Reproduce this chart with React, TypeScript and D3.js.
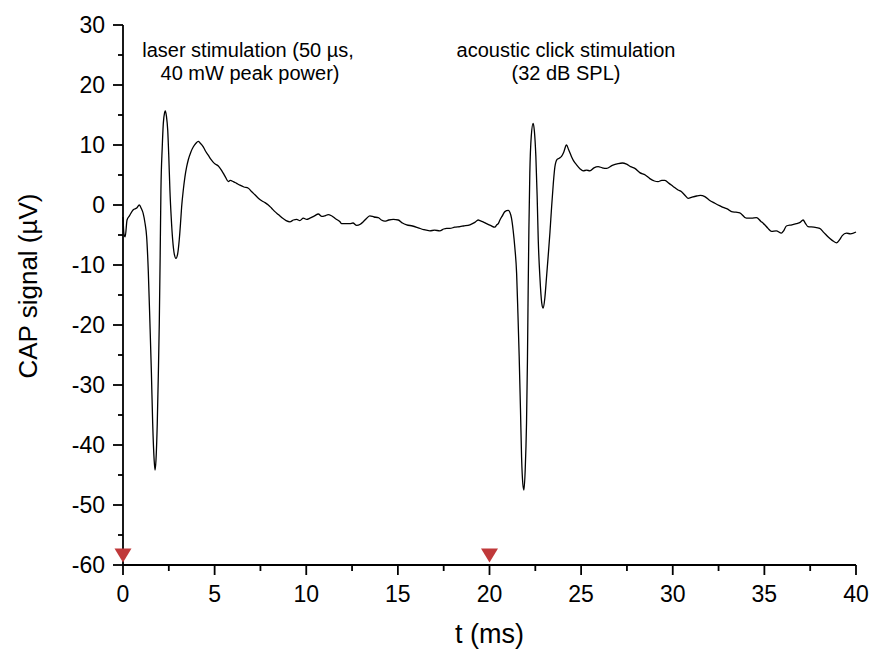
import React from "react";
import * as d3 from "d3";

const timeMs = [
  0.0, 0.05, 0.12, 0.22, 0.35, 0.56, 0.75, 0.89, 1.0, 1.1, 1.2, 1.29, 1.38, 1.47, 1.55, 1.62, 1.7, 1.75, 1.8, 1.87,
  1.93, 1.98, 2.03, 2.07, 2.14, 2.2, 2.27, 2.31, 2.37, 2.44, 2.5, 2.56, 2.63, 2.71, 2.8, 2.89, 2.98, 3.07, 3.14, 3.2,
  3.29, 3.38, 3.47, 3.56, 3.7, 3.84, 3.98, 4.11, 4.22, 4.38, 4.5, 4.65, 4.8, 4.93, 5.05, 5.2, 5.35, 5.47, 5.6, 5.75,
  5.85, 6.02, 6.2, 6.38, 6.6, 6.84, 7.0, 7.2, 7.4, 7.57, 7.75, 7.93, 8.1, 8.29, 8.48, 8.66, 8.9, 9.11, 9.3, 9.48,
  9.65, 9.84, 10.02, 10.2, 10.45, 10.66, 10.85, 11.02, 11.2, 11.38, 11.6, 11.84, 11.93, 12.2, 12.38, 12.55, 12.75, 12.95, 13.11, 13.3,
  13.47, 13.7, 13.93, 14.1, 14.29, 14.5, 14.75, 15.02, 15.25, 15.48, 15.8, 16.11, 16.4, 16.75, 17.0, 17.29, 17.5, 17.66, 17.84, 18.1,
  18.39, 18.57, 18.93, 19.2, 19.38, 19.48, 19.65, 19.84, 20.05, 20.29, 20.4, 20.48, 20.57, 20.7, 20.84, 21.02, 21.11, 21.2, 21.29, 21.38,
  21.48, 21.55, 21.62, 21.69, 21.75, 21.82, 21.88, 21.95, 22.02, 22.07, 22.11, 22.15, 22.2, 22.28, 22.38, 22.45, 22.53, 22.6, 22.66, 22.75,
  22.85, 22.93, 23.02, 23.1, 23.2, 23.3, 23.39, 23.48, 23.57, 23.69, 23.8, 23.93, 24.05, 24.2, 24.32, 24.47, 24.6, 24.75, 24.95, 25.11,
  25.3, 25.48, 25.7, 25.93, 26.15, 26.39, 26.7, 27.02, 27.25, 27.48, 27.7, 27.93, 28.2, 28.5, 28.75, 29.0, 29.2, 29.4, 29.57, 29.8,
  30.02, 30.29, 30.48, 30.7, 30.84, 31.05, 31.3, 31.5, 31.75, 32.0, 32.3, 32.55, 32.75, 33.0, 33.21, 33.45, 33.66, 34.02, 34.3, 34.57,
  34.8, 35.02, 35.2, 35.39, 35.65, 35.93, 36.05, 36.2, 36.5, 36.75, 36.95, 37.11, 37.25, 37.38, 37.7, 38.02, 38.25, 38.47, 38.7, 38.93,
  39.1, 39.25, 39.48, 39.7, 40.0,
];

const capUv = [
  -2.0, -4.8, -5.3, -2.5, -1.8, -0.8, -0.5, 0.0, -0.6, -1.4, -3.0, -5.3, -11, -19.7, -28, -36.4, -42.5, -44.2, -42.5, -36.4,
  -28, -19.7, -8, 2.5, 9.5, 13.6, 15.4, 15.7, 14.8, 12.5, 8, 2.5, -2, -5.8, -8.2, -8.9, -8.2, -5.8, -3, -0.3,
  2.5, 4.7, 6.3, 7.5, 8.8, 9.7, 10.3, 10.6, 10.3, 9.7, 9.0, 8.3, 7.6, 7.1, 6.8, 6.5, 5.9, 5.3, 4.6, 3.9,
  4.1, 3.9, 3.6, 3.3, 3.0, 2.8, 2.3, 1.7, 1.1, 0.7, 0.4, 0.0, -0.5, -1.1, -1.6, -2.1, -2.6, -2.8, -2.5, -2.4,
  -2.6, -2.2, -2.4, -2.2, -1.8, -1.5, -1.9, -1.8, -1.6, -1.8, -2.3, -2.8, -3.1, -3.1, -3.1, -3.0, -3.4, -3.2, -2.8, -2.2,
  -1.8, -2.0, -2.1, -2.5, -2.7, -2.5, -2.4, -2.5, -3.0, -3.3, -3.5, -3.8, -4.1, -4.3, -4.2, -4.3, -4.0, -3.9, -3.9, -3.7,
  -3.6, -3.5, -3.3, -2.9, -2.5, -2.6, -2.8, -3.1, -3.4, -3.7, -3.3, -3.1, -2.5, -1.8, -1.1, -0.9, -1.2, -2.2, -4.2, -7,
  -11.4, -18, -25.3, -34, -42, -46.5, -47.5, -44, -36.4, -26, -14.2, -4, 5.3, 11.5, 13.6, 12.3, 8.1, 1.5, -5.8, -12,
  -16.3, -17.2, -15.5, -12.5, -8.6, -4.5, -0.3, 3.5, 6.4, 7.6, 7.8, 8.1, 8.8, 10.0, 9.2, 8.1, 7.3, 6.7, 6.0, 5.7,
  5.8, 5.7, 6.2, 6.4, 6.2, 6.1, 6.6, 6.9, 7.0, 6.8, 6.4, 6.1, 5.4, 5.0, 4.4, 4.0, 3.9, 4.1, 4.1, 3.6,
  3.1, 2.5, 2.2, 1.5, 1.1, 1.3, 1.5, 1.6, 1.4, 0.8, 0.3, -0.1, -0.4, -0.7, -1.1, -1.2, -1.3, -2.2, -2.2, -2.1,
  -2.7, -3.3, -3.9, -4.4, -4.3, -4.7, -4.3, -3.5, -3.3, -3.1, -2.9, -2.5, -3.1, -3.6, -3.7, -3.9, -4.6, -5.3, -5.9, -6.3,
  -5.8, -5.1, -4.7, -4.8, -4.5,
];

const xMajorTicks = [0, 5, 10, 15, 20, 25, 30, 35, 40];
const xMinorTicks = [2.5, 7.5, 12.5, 17.5, 22.5, 27.5, 32.5, 37.5];
const yMajorTicks = [-60, -50, -40, -30, -20, -10, 0, 10, 20, 30];
const yMinorTicks = [-55, -45, -35, -25, -15, -5, 5, 15, 25];
const stimulusTimes = [0, 20];

const annotationLaser = ["laser stimulation (50 µs,", "40 mW peak power)"];
const annotationAcoustic = ["acoustic click stimulation", "(32 dB SPL)"];
const xTitle = "t (ms)";
const yTitle = "CAP signal (µV)";

export default function App() {
  const W = 872;
  const H = 650;
  const x = d3.scaleLinear().domain([0, 40]).range([123, 856]);
  const y = d3.scaleLinear().domain([-60, 30]).range([565, 25]);
  const font = "'Liberation Sans', Arial, sans-serif";

  const pts: [number, number][] = timeMs.map((t, i) => [t, capUv[i]]);
  const line = d3
    .line<[number, number]>()
    .x((d) => x(d[0]))
    .y((d) => y(d[1]))
    .curve(d3.curveMonotoneX);

  const x0 = x(0);
  const yBase = y(-60);
  const axisW = 1.8;

  return (
    <svg
      width={W}
      height={H}
      style={{ position: "absolute", left: 0, top: 0, background: "#fff" }}
      fontFamily={font}
    >
      <rect x={0} y={0} width={W} height={H} fill="#fff" />
      <path d={line(pts) || ""} fill="none" stroke="#000" strokeWidth={1.3} strokeLinejoin="round" />

      <line x1={x0} x2={x0} y1={y(30)} y2={yBase} stroke="#000" strokeWidth={axisW} />
      {yMajorTicks.map((v) => (
        <g key={"ym" + v}>
          <line x1={x0 - 10} x2={x0} y1={y(v)} y2={y(v)} stroke="#000" strokeWidth={axisW} />
          <text x={x0 - 18} y={y(v)} dy="0.36em" textAnchor="end" fontSize={23}>
            {v}
          </text>
        </g>
      ))}
      {yMinorTicks.map((v) => (
        <line key={"yn" + v} x1={x0 - 5} x2={x0} y1={y(v)} y2={y(v)} stroke="#000" strokeWidth={axisW} />
      ))}

      <line x1={x0} x2={x(40)} y1={yBase} y2={yBase} stroke="#000" strokeWidth={axisW} />
      {xMajorTicks.map((v) => (
        <g key={"xm" + v}>
          <line x1={x(v)} x2={x(v)} y1={yBase} y2={yBase + 10} stroke="#000" strokeWidth={axisW} />
          <text x={x(v)} y={yBase + 37} textAnchor="middle" fontSize={23}>
            {v}
          </text>
        </g>
      ))}
      {xMinorTicks.map((v) => (
        <line key={"xn" + v} x1={x(v)} x2={x(v)} y1={yBase} y2={yBase + 6} stroke="#000" strokeWidth={axisW} />
      ))}

      {stimulusTimes.map((t) => {
        const cx = x(t);
        const tip = yBase - 2.5;
        return (
          <path
            key={"st" + t}
            d={`M${cx - 8.5},${tip - 14} L${cx + 8.5},${tip - 14} L${cx},${tip} Z`}
            fill="#c0393a"
          />
        );
      })}

      <text textAnchor="middle" fontSize={20}>
        <tspan x={248} y={57}>{annotationLaser[0]}</tspan>
        <tspan x={250} y={80}>{annotationLaser[1]}</tspan>
      </text>
      <text textAnchor="middle" fontSize={20}>
        <tspan x={566} y={57}>{annotationAcoustic[0]}</tspan>
        <tspan x={566} y={80}>{annotationAcoustic[1]}</tspan>
      </text>

      <text x={(x(0) + x(40)) / 2} y={643} textAnchor="middle" fontSize={27}>
        {xTitle}
      </text>
      <text transform={`translate(37, 286) rotate(-90)`} textAnchor="middle" fontSize={26}>
        {yTitle}
      </text>
    </svg>
  );
}
